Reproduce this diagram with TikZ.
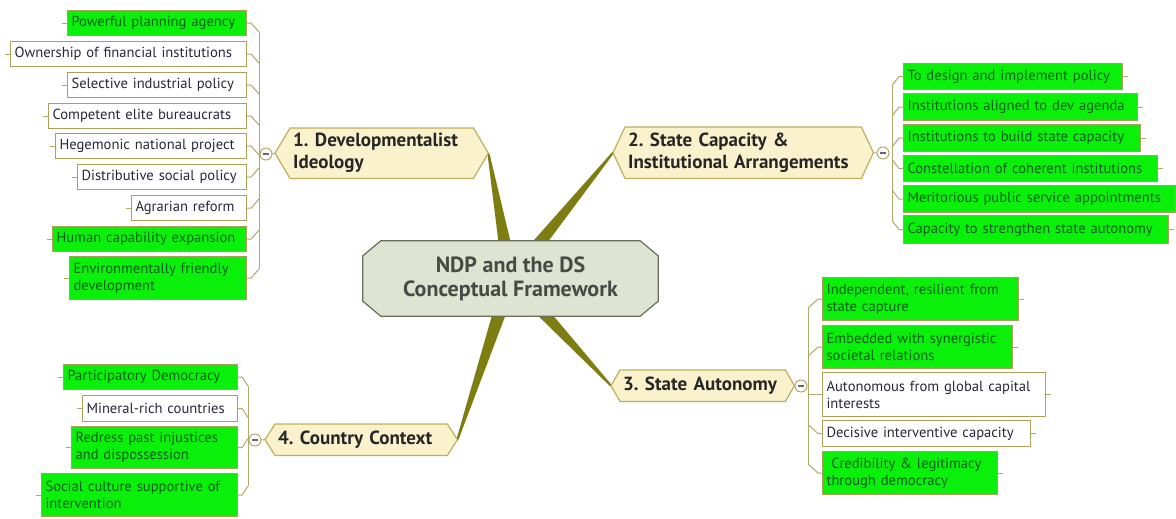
\documentclass[tikz,border=0pt]{standalone}
\usepackage{fontspec}
\setmainfont{PT Sans}
\usetikzlibrary{calc}
\pgfdeclarelayer{bglayer}
\pgfdeclarelayer{wedgelayer}
\pgfdeclarelayer{shapelayer}
\pgfsetlayers{bglayer,wedgelayer,shapelayer,main}
\frenchspacing
\definecolor{leafgreen}{RGB}{10,240,10}
\definecolor{leafborder}{RGB}{170,160,90}
\definecolor{greentext}{RGB}{0,95,20}
\definecolor{whitetext}{RGB}{40,40,60}
\definecolor{topicfill}{RGB}{250,242,205}
\definecolor{topicborder}{RGB}{190,175,95}
\definecolor{conncol}{RGB}{178,168,105}
\definecolor{wedgecol}{RGB}{125,125,18}
\definecolor{centerfill}{RGB}{221,228,210}
\definecolor{centerborder}{RGB}{105,110,88}
\definecolor{centertext}{RGB}{70,75,70}
\newcommand\leaffont{\fontsize{14.6}{17}\selectfont}
\newcommand\topicfont{\fontsize{19}{22}\selectfont\bfseries}
\newcommand\centerfont{\fontsize{22}{24}\selectfont\bfseries}
\tikzset{
  leaf/.style={rectangle, draw=leafborder, line width=1.1pt, inner xsep=4pt, inner ysep=0pt, align=left, font=\leaffont},
  leafG/.style={leaf, fill=leafgreen, text=greentext},
  leafW/.style={leaf, fill=white, text=whitetext},
  topic/.style={rectangle, inner xsep=3pt, inner ysep=0pt, align=left, font=\topicfont, text=black!85},
  topicshape/.style={fill=topicfill, draw=topicborder, line width=1.2pt, line join=miter},
  conn/.style={draw=conncol, line width=1pt},
  collapse/.style={circle, draw=conncol, line width=1pt, fill=white, minimum size=12pt, inner sep=0pt},
  minus/.style={draw=black!60, line width=1.2pt},
  wedge/.style={fill=wedgecol}
}
\newcommand\leafnode[7]{%
  \pgfmathsetmacro\lw{#4-#2-8}\pgfmathsetmacro\lh{#5-#3}%
  \node[#6, text width=\lw pt, minimum height=\lh pt, anchor=north west] (#1) at (#2,#3) {#7};}
\newcommand\lconn[3]{%
  \draw[conn] (#1.east) -- ++(4,0) -- ($(#1.east -| #2)+(0,#3)$);
  \draw[conn] (#1.west) -- ++(-5,0);}
\newcommand\rconn[3]{%
  \draw[conn] (#1.west) -- ++(-4,0) -- ($(#1.west -| #2)+(0,#3)$);
  \draw[conn] (#1.east) -- ++(5,0);}
\newcommand\topicnode[7]{% name, x1, y1, x2, y2, depth, text
  \pgfmathsetmacro\tw{#4-#2-6}\pgfmathsetmacro\th{#5-#3}%
  \node[topic, text width=\tw pt, minimum height=\th pt, anchor=north west] (#1) at (#2,#3) {#7};
  \coordinate (#1L) at ($(#1.west)+(-#6,0)$);
  \coordinate (#1R) at ($(#1.east)+(#6,0)$);
  \begin{pgfonlayer}{shapelayer}
    \draw[topicshape] (#1.north west) -- (#1.north east) -- (#1R) -- (#1.south east) -- (#1.south west) -- (#1L) -- cycle;
  \end{pgfonlayer}}
\newcommand\wedgeto[1]{%
  \fill[wedge] ($(hub)!8pt!90:(#1)$) -- ($(#1)!1pt!-90:(hub)$) -- ($(#1)!1pt!90:(hub)$) -- ($(hub)!8pt!-90:(#1)$) -- cycle;}
\begin{document}
\begin{tikzpicture}[x=1pt,y=-1pt]
\useasboundingbox (0,0) rectangle (1176,519);
\begin{pgfonlayer}{bglayer}
\fill[white] (0,0) rectangle (1176,519);
\end{pgfonlayer}

% ---------- central topic ----------
\node[minimum width=295pt, minimum height=75pt, align=center, font=\centerfont, text=centertext, inner sep=0pt] (ctr) at (510.5,278.5) {NDP and the DS\\Conceptual Framework};
\begin{pgfonlayer}{shapelayer}
\draw[fill=centerfill, draw=centerborder, line width=1.2pt]
  ($(ctr.north west)+(18,0)$) -- ($(ctr.north east)+(-18,0)$) -- ($(ctr.north east)+(0,15)$) --
  ($(ctr.south east)+(0,-15)$) -- ($(ctr.south east)+(-18,0)$) -- ($(ctr.south west)+(18,0)$) --
  ($(ctr.south west)+(0,-15)$) -- ($(ctr.north west)+(0,15)$) -- cycle;
\end{pgfonlayer}
\coordinate (hub) at (511,278);

% ---------- main topics ----------
\topicnode{t1}{290}{128}{473}{178}{15}{1. Developmentalist\\Ideology}
\topicnode{t2}{625}{127}{861}{178}{12}{2. State Capacity \&\\Institutional Arrangements}
\topicnode{t3}{620}{370}{785}{401}{9}{3. State Autonomy}
\topicnode{t4}{275}{424}{447}{455}{10}{4. Country Context}

\begin{pgfonlayer}{wedgelayer}
\wedgeto{t1R}
\wedgeto{t2L}
\wedgeto{t3L}
\wedgeto{t4R}
\end{pgfonlayer}

% ---------- group 1 ----------
\leafnode{g1a}{67}{10}{246}{35}{leafG}{Powerful planning agency}
\leafnode{g1b}{10}{41}{246}{66}{leafW}{Ownership of financial institutions}
\leafnode{g1c}{67}{72}{246}{97}{leafW}{Selective industrial policy}
\leafnode{g1d}{48}{103}{246}{128}{leafW}{Competent elite bureaucrats}
\leafnode{g1e}{55}{133}{246}{158}{leafW}{Hegemonic national project}
\leafnode{g1f}{77}{164}{246}{189}{leafW}{Distributive social policy}
\leafnode{g1g}{131}{195}{246}{220}{leafW}{Agrarian reform}
\leafnode{g1h}{52}{226}{246}{251}{leafG}{Human capability expansion}
\leafnode{g1i}{69}{256}{246}{299}{leafG}{Environmentally friendly\\development}
\coordinate (tr1) at (259,155);
\lconn{g1a}{tr1}{9}\lconn{g1b}{tr1}{9}\lconn{g1c}{tr1}{9}\lconn{g1d}{tr1}{9}\lconn{g1e}{tr1}{9}
\lconn{g1f}{tr1}{-9}\lconn{g1g}{tr1}{-9}\lconn{g1h}{tr1}{-9}\lconn{g1i}{tr1}{-9}
\draw[conn] ($(g1a.east -| tr1)+(0,9)$) -- ($(g1i.east -| tr1)+(0,-9)$);
\node[collapse] (c1) at (266,154) {};
\draw[minus] ($(c1.center)+(-3,0)$) -- ($(c1.center)+(3,0)$);
\draw[conn] (c1.east) -- (t1L);

% ---------- group 2 ----------
\leafnode{g2a}{903}{63}{1122}{89}{leafG}{To design and implement policy}
\leafnode{g2b}{903}{93}{1137}{120}{leafG}{Institutions aligned to dev agenda}
\leafnode{g2c}{903}{124}{1140}{151}{leafG}{Institutions to build state capacity}
\leafnode{g2d}{903}{155}{1157}{181}{leafG}{Constellation of coherent institutions}
\leafnode{g2e}{903}{185}{1175}{212}{leafG}{Meritorious public service appointments}
\leafnode{g2f}{903}{215}{1168}{243}{leafG}{Capacity to strengthen state autonomy}
\coordinate (tr2) at (892,153);
\rconn{g2a}{tr2}{9}\rconn{g2b}{tr2}{9}\rconn{g2c}{tr2}{9}
\rconn{g2d}{tr2}{-9}\rconn{g2e}{tr2}{-9}\rconn{g2f}{tr2}{-9}
\draw[conn] ($(g2a.west -| tr2)+(0,9)$) -- ($(g2f.west -| tr2)+(0,-9)$);
\node[collapse] (c2) at (883,153) {};
\draw[minus] ($(c2.center)+(-3,0)$) -- ($(c2.center)+(3,0)$);
\draw[conn] (t2R) -- (c2.west);

% ---------- group 3 ----------
\leafnode{g3a}{822}{277}{1018}{320}{leafG}{Independent, resilient from\\state capture}
\leafnode{g3b}{822}{325}{1012}{368}{leafG}{Embedded with synergistic\\societal relations}
\leafnode{g3c}{822}{372}{1045}{416}{leafW}{Autonomous from global capital\\interests}
\leafnode{g3d}{822}{420}{1030}{446}{leafW}{Decisive interventive capacity}
\leafnode{g3e}{822}{451}{997}{494}{leafG}{\ Credibility \& legitimacy\\through democracy}
\coordinate (tr3) at (808,386);
\rconn{g3a}{tr3}{9}\rconn{g3b}{tr3}{9}\rconn{g3c}{tr3}{0}
\rconn{g3d}{tr3}{-9}\rconn{g3e}{tr3}{-9}
\draw[conn] ($(g3a.west -| tr3)+(0,9)$) -- ($(g3e.west -| tr3)+(0,-9)$);
\node[collapse] (c3) at (801,386) {};
\draw[minus] ($(c3.center)+(-3,0)$) -- ($(c3.center)+(3,0)$);
\draw[conn] (t3R) -- (c3.west);

% ---------- group 4 ----------
\leafnode{g4a}{63}{364}{237}{389}{leafG}{Participatory Democracy}
\leafnode{g4b}{82}{395}{237}{421}{leafW}{Mineral-rich countries}
\leafnode{g4c}{71}{426}{237}{468}{leafG}{Redress past injustices\\and dispossession}
\leafnode{g4d}{41}{473}{237}{516}{leafG}{Social culture supportive of\\intervention}
\coordinate (tr4) at (248,440);
\lconn{g4a}{tr4}{9}\lconn{g4b}{tr4}{9}\lconn{g4c}{tr4}{-9}\lconn{g4d}{tr4}{-9}
\draw[conn] ($(g4a.east -| tr4)+(0,9)$) -- ($(g4d.east -| tr4)+(0,-9)$);
\node[collapse] (c4) at (255,440) {};
\draw[minus] ($(c4.center)+(-3,0)$) -- ($(c4.center)+(3,0)$);
\draw[conn] (c4.east) -- (t4L);
\end{tikzpicture}
\end{document}
